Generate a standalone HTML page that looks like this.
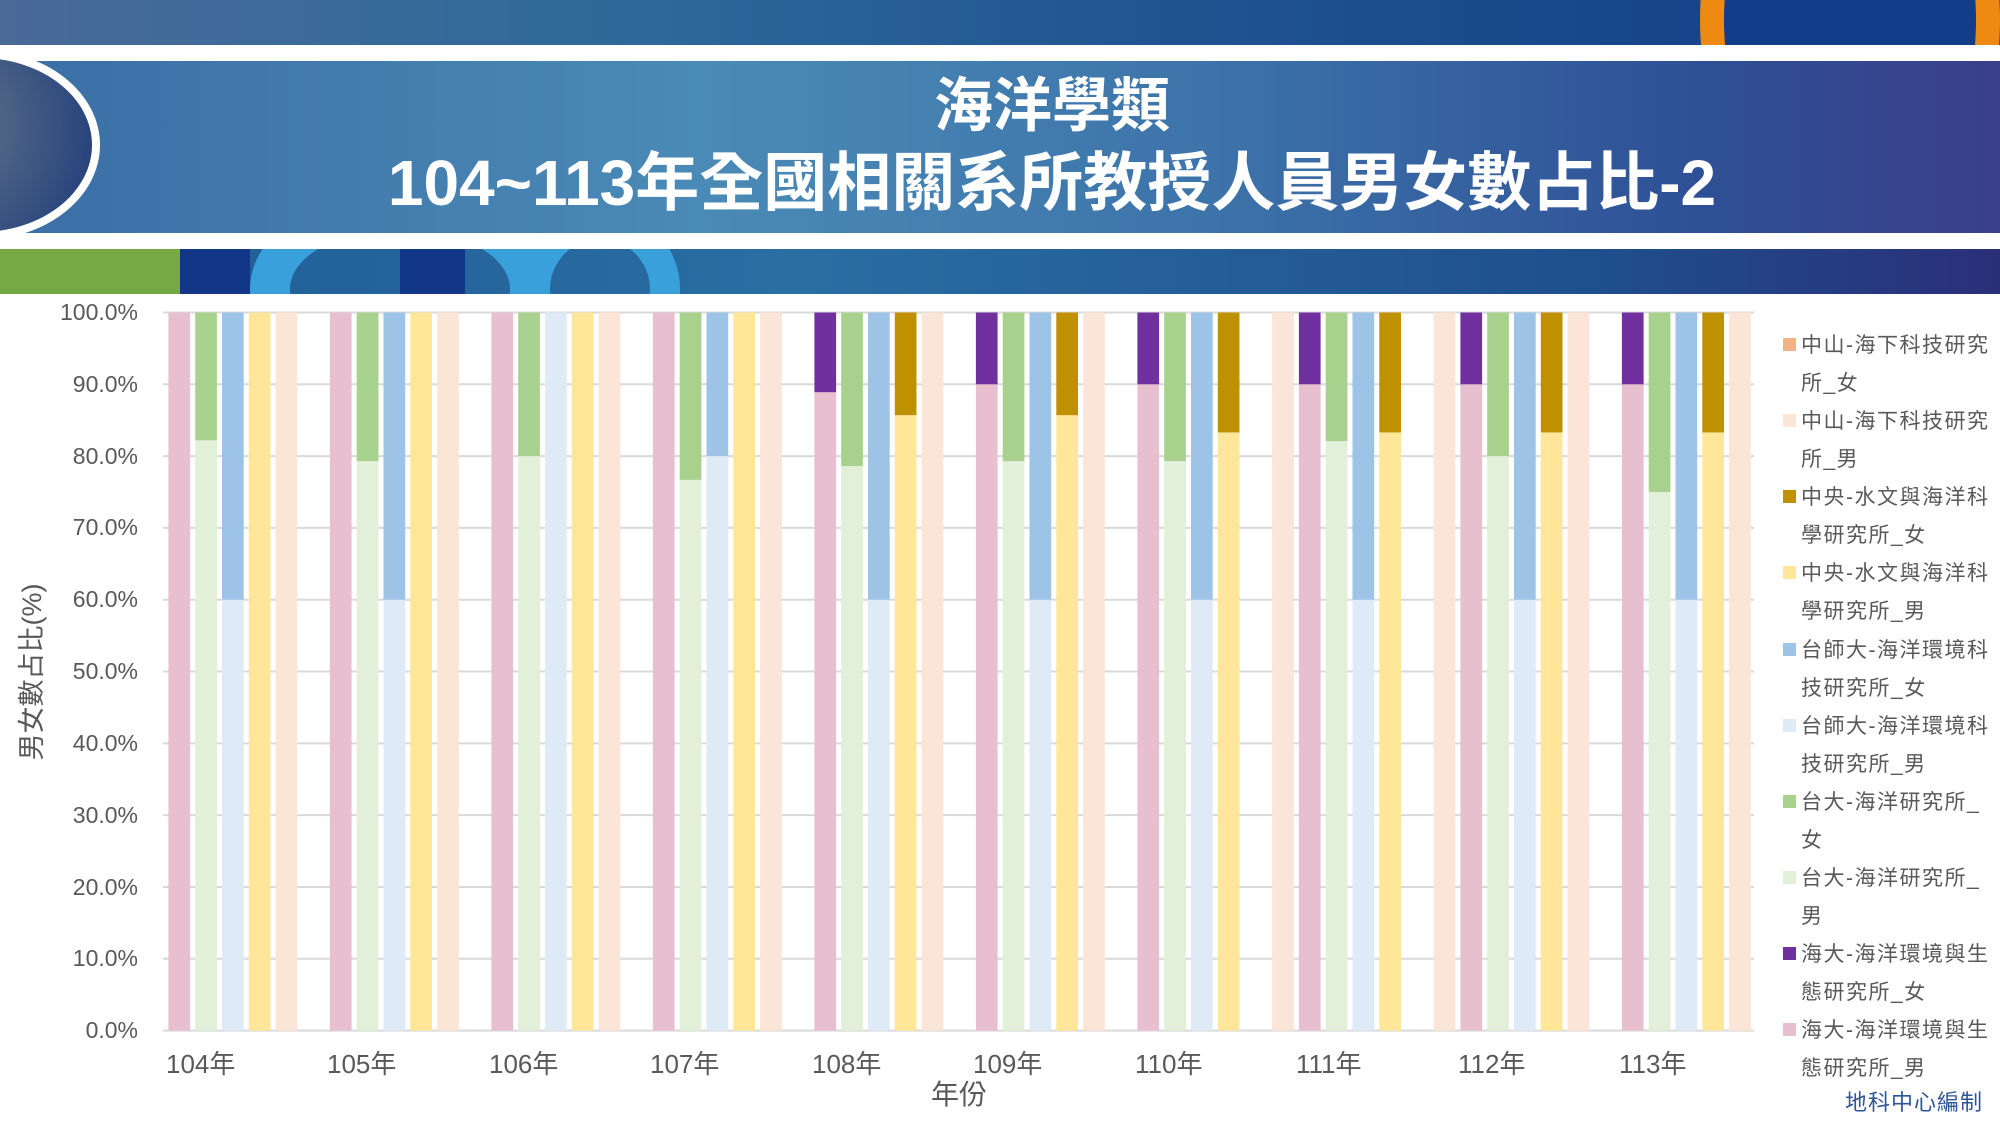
<!DOCTYPE html>
<html><head><meta charset="utf-8"><style>
body{margin:0;width:2000px;height:1125px;overflow:hidden;background:#fff;position:relative;font-family:"Liberation Sans","Noto Sans CJK TC",sans-serif}
.abs{position:absolute}
</style></head><body>
<div class="abs" style="left:0;top:0;width:2000px;height:45px;background:linear-gradient(90deg,#4a6a98 0%,#2d6a9a 30%,#1f5390 60%,#123a86 100%);overflow:hidden">
 <div class="abs" style="left:1700px;top:-200px;width:300px;height:440px;border-radius:50%;border:24px solid #ee8a12;box-sizing:border-box;background:#123d88"></div>
</div>
<div class="abs" style="left:0;top:45px;width:2000px;height:16px;background:#fff"></div>
<div class="abs" style="left:0;top:61px;width:2000px;height:172px;background:linear-gradient(90deg,#3b6ea6 0%,#4a8ab6 35%,#3d74aa 60%,#2e5096 85%,#3a3f8a 100%)"></div>
<div class="abs" style="left:-140px;top:50px;width:240px;height:190px;border-radius:50%;border:8px solid #fff;box-sizing:border-box;background:radial-gradient(circle at 30% 40%,#6a7a8a,#1c3a7a)"></div>
<div class="abs" style="left:0;top:233px;width:2000px;height:16px;background:#fff"></div>
<div class="abs" style="left:0;top:249px;width:2000px;height:45px;background:linear-gradient(90deg,#1f5a94 0%,#2a6ea2 40%,#1f4f8c 80%,#2a2f78 100%);overflow:hidden">
 <div class="abs" style="left:0;top:0;width:180px;height:45px;background:#76a844"></div>
 <div class="abs" style="left:180px;top:0;width:70px;height:45px;background:#123788"></div>
 <div class="abs" style="left:250px;top:-60px;width:300px;height:200px;border-radius:50%;border:40px solid #3aa0dc;box-sizing:border-box"></div>
 <div class="abs" style="left:400px;top:0;width:65px;height:45px;background:#123788"></div>
 <div class="abs" style="left:520px;top:-40px;width:160px;height:160px;border-radius:50%;border:30px solid #3aa0dc;box-sizing:border-box"></div>
</div>
<div class="abs" style="left:0;top:70px;width:2104px;text-align:center;color:#fff;font-weight:bold;font-size:59px;line-height:72px">海洋學類</div>
<div class="abs" style="left:0;top:146px;width:2104px;text-align:center;color:#fff;font-weight:bold;font-size:64px;line-height:74px">104~113年全國相關系所教授人員男女數占比-2</div>

<svg class="abs" style="left:0;top:0" width="2000" height="1125" id="ch">
<g stroke="#d9d9d9" stroke-width="2" id="grid"></g>
<g id="bars"></g>
<g font-size="23" fill="#595959" text-anchor="end" font-family="Liberation Sans, Noto Sans CJK TC, sans-serif">
<text x="138" y="320">100.0%</text><text x="138" y="392">90.0%</text><text x="138" y="464">80.0%</text><text x="138" y="535">70.0%</text><text x="138" y="607">60.0%</text><text x="138" y="679">50.0%</text><text x="138" y="751">40.0%</text><text x="138" y="823">30.0%</text><text x="138" y="895">20.0%</text><text x="138" y="966">10.0%</text><text x="138" y="1038">0.0%</text>
</g>
<g font-size="26" fill="#595959" font-family="Liberation Sans, Noto Sans CJK TC, sans-serif">
<text x="166" y="1073">104年</text><text x="327" y="1073">105年</text><text x="489" y="1073">106年</text><text x="650" y="1073">107年</text><text x="812" y="1073">108年</text><text x="973" y="1073">109年</text><text x="1135" y="1073">110年</text><text x="1296" y="1073">111年</text><text x="1458" y="1073">112年</text><text x="1619" y="1073">113年</text>
<text x="959" y="1104" text-anchor="middle" font-size="28">年份</text>
<text transform="translate(41,672) rotate(-90)" text-anchor="middle" font-size="27">男女數占比(%)</text>
</g>
<g font-size="21" fill="#595959" letter-spacing="1.5" font-family="Liberation Sans, Noto Sans CJK TC, sans-serif">
<rect x="1783" y="338" width="13" height="13" fill="#F4B183"/><text x="1801" y="352">中山-海下科技研究</text><text x="1801" y="390">所_女</text>
<rect x="1783" y="414" width="13" height="13" fill="#FBE5D6"/><text x="1801" y="428">中山-海下科技研究</text><text x="1801" y="466">所_男</text>
<rect x="1783" y="490" width="13" height="13" fill="#BF9000"/><text x="1801" y="504">中央-水文與海洋科</text><text x="1801" y="542">學研究所_女</text>
<rect x="1783" y="566" width="13" height="13" fill="#FFE699"/><text x="1801" y="580">中央-水文與海洋科</text><text x="1801" y="618">學研究所_男</text>
<rect x="1783" y="643" width="13" height="13" fill="#9DC3E6"/><text x="1801" y="657">台師大-海洋環境科</text><text x="1801" y="695">技研究所_女</text>
<rect x="1783" y="719" width="13" height="13" fill="#DEEBF7"/><text x="1801" y="733">台師大-海洋環境科</text><text x="1801" y="771">技研究所_男</text>
<rect x="1783" y="795" width="13" height="13" fill="#A9D18E"/><text x="1801" y="809">台大-海洋研究所_</text><text x="1801" y="847">女</text>
<rect x="1783" y="871" width="13" height="13" fill="#E2EFD9"/><text x="1801" y="885">台大-海洋研究所_</text><text x="1801" y="923">男</text>
<rect x="1783" y="947" width="13" height="13" fill="#7030A0"/><text x="1801" y="961">海大-海洋環境與生</text><text x="1801" y="999">態研究所_女</text>
<rect x="1783" y="1023" width="13" height="13" fill="#E8BFCE"/><text x="1801" y="1037">海大-海洋環境與生</text><text x="1801" y="1075">態研究所_男</text>
<text x="1983" y="1110" text-anchor="end" fill="#2F5597" font-size="22" letter-spacing="1">地科中心編制</text>
</g>
</svg>
<script>
var T=312.5,B=1030.6,H=B-T,ns="http://www.w3.org/2000/svg";
var g=document.getElementById('grid');
for(var i=0;i<=10;i++){var y=T+H*i/10;var l=document.createElementNS(ns,'line');l.setAttribute('x1',163);l.setAttribute('x2',1754);l.setAttribute('y1',y);l.setAttribute('y2',y);g.appendChild(l);}
var bars=document.getElementById('bars');
function r(x,v0,v1,c){var e=document.createElementNS(ns,'rect');var y0=B-H*v1/100,y1=B-H*v0/100;e.setAttribute('x',x);e.setAttribute('y',y0);e.setAttribute('width',21.7);e.setAttribute('height',y1-y0);e.setAttribute('fill',c);bars.appendChild(e);}
var pink=[100,100,100,100,88.9,90,90,90,90,90],green=[82.2,79.3,80,76.7,78.6,79.3,79.3,82.1,80,75],blue=[60,60,100,80,60,60,60,60,60,60],yel=[100,100,100,100,85.7,85.7,83.3,83.3,83.3,83.3];
for(var k=0;k<10;k++){var b=168.4+161.5*k;
r(b,0,pink[k],'#E8BFCE');if(pink[k]<100)r(b,pink[k],100,'#7030A0');
r(b+26.8,0,green[k],'#E2EFD9');r(b+26.8,green[k],100,'#A9D18E');
r(b+53.6,0,blue[k],'#DEEBF7');if(blue[k]<100)r(b+53.6,blue[k],100,'#9DC3E6');
r(b+80.4,0,yel[k],'#FFE699');if(yel[k]<100)r(b+80.4,yel[k],100,'#BF9000');
if(k<6||k>=8)r(b+107.2,0,100,'#FBE5D6');
if(k==7||k==8)r(b-26.8,0,100,'#FBE5D6');}
</script>
</body></html>
